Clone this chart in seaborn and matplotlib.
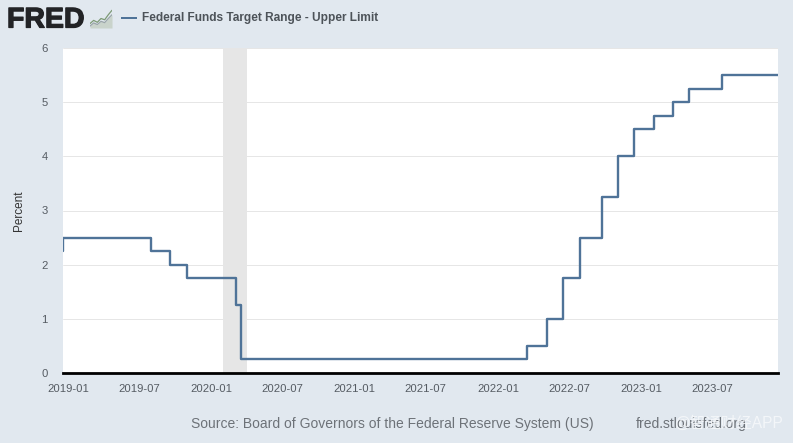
import pandas as pd
import seaborn as sns
import matplotlib.pyplot as plt
import matplotlib.dates as mdates
import matplotlib.patheffects as pe

# step dates and the upper limit in force from each date
step_dates = ["2018-12-19", "2018-12-20", "2019-08-01", "2019-09-19", "2019-10-31",
              "2020-03-04", "2020-03-16", "2022-03-17", "2022-05-05", "2022-06-16",
              "2022-07-28", "2022-09-22", "2022-11-03", "2022-12-15", "2023-02-02",
              "2023-03-23", "2023-05-04", "2023-07-27", "2023-12-16"]
upper_limit = [2.25, 2.5, 2.25, 2.0, 1.75, 1.25, 0.25, 0.5, 1.0, 1.75, 2.5, 3.25,
               4.0, 4.5, 4.75, 5.0, 5.25, 5.5, 5.5]
recession = ["2020-02-01", "2020-04-01"]
x_ticks = ["2019-01", "2019-07", "2020-01", "2020-07", "2021-01", "2021-07",
           "2022-01", "2022-07", "2023-01", "2023-07"]
y_ticks = [0, 1, 2, 3, 4, 5, 6]
icon_x = [0, 1, 2, 3, 4, 5, 6]
icon_a = [1.4, 2.4, 1.8, 3.0, 2.6, 4.2, 5.6]
icon_b = [0.6, 1.6, 1.1, 2.1, 1.7, 3.0, 4.2]

BG = "#e1e8ef"
LINE = "#4f7398"
TEXT = "#555b62"

sns.set_theme(style="white")
plt.rcParams["font.family"] = ["Liberation Sans", "Noto Sans CJK SC", "DejaVu Sans"]

df = pd.DataFrame({"date": pd.to_datetime(step_dates), "rate": upper_limit})

fig = plt.figure(figsize=(7.93, 4.43), dpi=100, facecolor=BG)
ax = fig.add_axes([63 / 793, 1 - 373 / 443, 715 / 793, 325 / 443])

ax.axvspan(pd.Timestamp(recession[0]), pd.Timestamp(recession[1]), color="#e6e6e6", lw=0, zorder=1)
sns.lineplot(data=df, x="date", y="rate", ax=ax, color=LINE, linewidth=1.7,
             drawstyle="steps-post", errorbar=None, zorder=3)

ax.set_xlim(df["date"].iloc[0], df["date"].iloc[-1])
ax.set_ylim(0, 6)
ax.set_yticks(y_ticks)
ax.set_xticks(pd.to_datetime(x_ticks))
ax.xaxis.set_major_formatter(mdates.DateFormatter("%Y-%m"))
ax.grid(axis="y", color="#e6e6e6", linewidth=0.7)
ax.set_axisbelow(True)
ax.set_xlabel("")
ax.set_ylabel("Percent", fontsize=8.5, color="#333333")
ax.yaxis.set_label_coords(-38 / 715, 0.5)
ax.tick_params(axis="x", length=7, width=0.7, color="#ccd6eb", labelsize=8.1, labelcolor=TEXT, pad=1)
ax.tick_params(axis="y", length=0, labelsize=8.1, labelcolor=TEXT, pad=11)
for side in ["top", "right", "left"]:
    ax.spines[side].set_visible(False)
ax.spines["bottom"].set_color("black")
ax.spines["bottom"].set_linewidth(2)

# header: logo, small chart icon, legend key and series name
fig.text(7 / 793, 1 - 27.5 / 443, "FRED", fontsize=20.5, fontweight="bold", color="#222326", va="baseline",
         path_effects=[pe.withStroke(linewidth=0.9, foreground="#222326")])
icon = fig.add_axes([90 / 793, 1 - 28 / 443, 22 / 793, 19 / 443])
icon.fill_between(icon_x, 0, icon_b, color="#c9d3cb", lw=0)
icon.plot(icon_x, icon_a, color="#7d9a76", linewidth=0.9)
icon.plot(icon_x, icon_b, color="#9aa5a8", linewidth=0.9)
icon.set_xlim(0, 6)
icon.set_ylim(0, 6)
icon.axis("off")

key = fig.add_axes([121 / 793, 1 - 18.5 / 443, 16 / 793, 1.6 / 443], facecolor=LINE)
key.set_xticks([])
key.set_yticks([])
for spine in key.spines.values():
    spine.set_visible(False)
fig.text(142 / 793, 1 - 21 / 443, "Federal Funds Target Range - Upper Limit",
         fontsize=8.6, fontweight="bold", color="#4d5359", va="baseline")

# footer
fig.text(191 / 793, 1 - 428 / 443, "Source: Board of Governors of the Federal Reserve System (US)",
         fontsize=10, color="#6d7278", va="baseline")
fig.text(636 / 793, 1 - 428 / 443, "fred.stlouisfed.org", fontsize=10, color="#6d7278", va="baseline")
fig.text(675 / 793, 1 - 428 / 443, "@智通财经APP", fontsize=11.2, color="#f7f9fb", alpha=0.85, va="baseline")

fig.savefig("out.png", dpi=100, facecolor=BG)
